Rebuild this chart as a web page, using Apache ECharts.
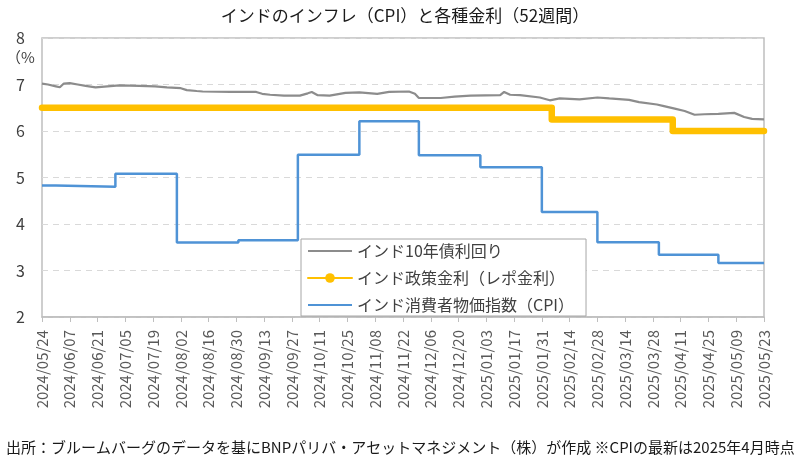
<!DOCTYPE html>
<html>
<head>
<meta charset="utf-8">
<script src="https://cdn.jsdelivr.net/npm/echarts@6/dist/echarts.min.js"></script>
<style>
html, body { margin: 0; padding: 0; background: #fff; }
#chart { width: 810px; height: 473px; }
</style>
</head>
<body>
<div id="chart"></div>
<script>
// 軸の日付（2024/05/24〜2025/05/23、日次）
var startDate = '2024/05/24';
var dayCount = 365;

// インド10年債利回り
var bondDates = [
	'2024/05/24', '2024/05/27', '2024/05/31', '2024/06/02', '2024/06/03', '2024/06/04', '2024/06/07',
	'2024/06/11', '2024/06/15', '2024/06/20', '2024/06/26', '2024/07/02', '2024/07/12', '2024/07/20',
	'2024/07/26', '2024/08/02', '2024/08/05', '2024/08/10', '2024/08/13', '2024/08/27', '2024/09/09',
	'2024/09/12', '2024/09/16', '2024/09/23', '2024/10/01', '2024/10/05', '2024/10/07', '2024/10/10',
	'2024/10/16', '2024/10/24', '2024/10/31', '2024/11/09', '2024/11/15', '2024/11/25', '2024/11/28',
	'2024/11/30', '2024/12/11', '2024/12/18', '2024/12/26', '2025/01/10', '2025/01/12', '2025/01/15',
	'2025/01/20', '2025/01/30', '2025/02/04', '2025/02/09', '2025/02/19', '2025/02/28', '2025/03/06',
	'2025/03/16', '2025/03/21', '2025/03/30', '2025/04/02', '2025/04/08', '2025/04/13', '2025/04/18',
	'2025/04/23', '2025/04/30', '2025/05/08', '2025/05/13', '2025/05/17', '2025/05/23'
];
var bondValues = [
	7.02, 7.00, 6.96, 6.94, 6.91, 7.02, 7.03,
	7.00, 6.97, 6.94, 6.96, 6.98, 6.97, 6.96,
	6.94, 6.92, 6.88, 6.86, 6.85, 6.84, 6.84,
	6.80, 6.78, 6.76, 6.76, 6.81, 6.84, 6.77,
	6.76, 6.82, 6.83, 6.80, 6.84, 6.85, 6.80,
	6.71, 6.71, 6.74, 6.76, 6.77, 6.84, 6.78,
	6.77, 6.72, 6.66, 6.70, 6.68, 6.72, 6.70,
	6.67, 6.62, 6.57, 6.54, 6.48, 6.43, 6.35,
	6.36, 6.37, 6.39, 6.30, 6.26, 6.25
];

// インド政策金利（レポ金利）
var repoDates = ['2024/05/24', '2025/02/05', '2025/04/07', '2025/05/23'];
var repoValues = [6.50, 6.25, 6.00, 6.00];

// インド消費者物価指数（CPI）
var cpiDates = [
	'2024/05/24', '2024/05/31', '2024/06/30', '2024/07/31', '2024/08/31', '2024/09/30', '2024/10/31',
	'2024/11/30', '2024/12/31', '2025/01/31', '2025/02/28', '2025/03/31', '2025/04/30', '2025/05/23'
];
var cpiValues = [4.83, 4.80, 5.08, 3.60, 3.65, 5.49, 6.21, 5.48, 5.22, 4.26, 3.61, 3.34, 3.16, 3.16];

var seriesNames = ['インド10年債利回り', 'インド政策金利（レポ金利）', 'インド消費者物価指数（CPI）'];

function pad(n) { return n < 10 ? '0' + n : '' + n; }
var categories = [];
var d0 = new Date(startDate);
for (var i = 0; i < dayCount; i++) {
	var d = new Date(d0.getFullYear(), d0.getMonth(), d0.getDate() + i);
	categories.push(d.getFullYear() + '/' + pad(d.getMonth() + 1) + '/' + pad(d.getDate()));
}
function zip(xs, ys) {
	return xs.map(function (x, i) { return [x, ys[i]]; });
}

var font = '"Noto Sans CJK JP", "Noto Sans", sans-serif';
var myChart = echarts.init(document.getElementById('chart'));
var option = {
	animation: false,
	textStyle: { fontFamily: font },
	title: {
		text: 'インドのインフレ（CPI）と各種金利（52週間）',
		left: 'center',
		top: 2,
		textStyle: { fontFamily: font, fontSize: 17, fontWeight: 'normal', color: '#1a1a1a' }
	},
	grid: {
		left: 42, right: 46, top: 38, bottom: 156,
		show: true, borderColor: '#bfbfbf', borderWidth: 1.5,
		containLabel: false
	},
	legend: {
		orient: 'vertical',
		left: 301, top: 239,
		width: 287,
		backgroundColor: '#fff',
		borderColor: '#a6a6a6',
		borderWidth: 1,
		borderRadius: 0,
		padding: [4, 12, 3, 6],
		itemWidth: 44,
		itemHeight: 12,
		itemGap: 11,
		textStyle: { fontFamily: font, fontSize: 16, color: '#404040' },
		data: [
			{ name: seriesNames[0], lineStyle: { width: 2 }, itemStyle: { opacity: 0 } },
			{ name: seriesNames[1], lineStyle: { width: 2 } },
			{ name: seriesNames[2], lineStyle: { width: 2 }, itemStyle: { opacity: 0 } }
		]
	},
	xAxis: {
		type: 'category',
		data: categories,
		boundaryGap: false,
		axisLine: { lineStyle: { color: '#bfbfbf', width: 1.5 } },
		axisTick: { interval: 13, length: 5, lineStyle: { color: '#bfbfbf' } },
		axisLabel: {
			interval: 13, rotate: 90, margin: 13,
			fontFamily: font, fontSize: 15, color: '#595959'
		},
		splitLine: { show: false }
	},
	yAxis: {
		type: 'value',
		min: 2, max: 8, interval: 1,
		axisLine: { show: false },
		axisTick: { show: false },
		axisLabel: { margin: 17, fontFamily: font, fontSize: 16, color: '#404040' },
		splitLine: { lineStyle: { color: '#d9d9d9', type: [6, 5], width: 1 } }
	},
	graphic: [
		{
			type: 'text', left: 6, top: 50,
			style: { text: '（%', fontFamily: font, fontSize: 15, fill: '#404040' }
		},
		{
			type: 'text', left: 6, top: 440,
			style: {
				text: '出所：ブルームバーグのデータを基にBNPパリバ・アセットマネジメント（株）が作成 ※CPIの最新は2025年4月時点',
				fontFamily: font, fontSize: 15, fill: '#1a1a1a'
			}
		}
	],
	series: [
		{
			name: seriesNames[0],
			type: 'line',
			data: zip(bondDates, bondValues),
			symbol: 'none',
			lineStyle: { color: '#8c8c8c', width: 2.2 },
			itemStyle: { color: '#8c8c8c' },
			z: 3
		},
		{
			name: seriesNames[1],
			type: 'line',
			step: 'end',
			data: zip(repoDates, repoValues),
			symbol: 'circle',
			symbolSize: 7,
			showSymbol: false,
			lineStyle: { color: '#ffc000', width: 6.5, cap: 'round', join: 'round' },
			itemStyle: { color: '#ffc000' },
			z: 2
		},
		{
			name: seriesNames[2],
			type: 'line',
			step: 'end',
			data: zip(cpiDates, cpiValues),
			symbol: 'none',
			lineStyle: { color: '#4f93d6', width: 2.5 },
			itemStyle: { color: '#4f93d6' },
			z: 2
		}
	]
};
myChart.setOption(option);
window.onresize = function () {
	myChart.resize();
};
</script>
</body>
</html>
